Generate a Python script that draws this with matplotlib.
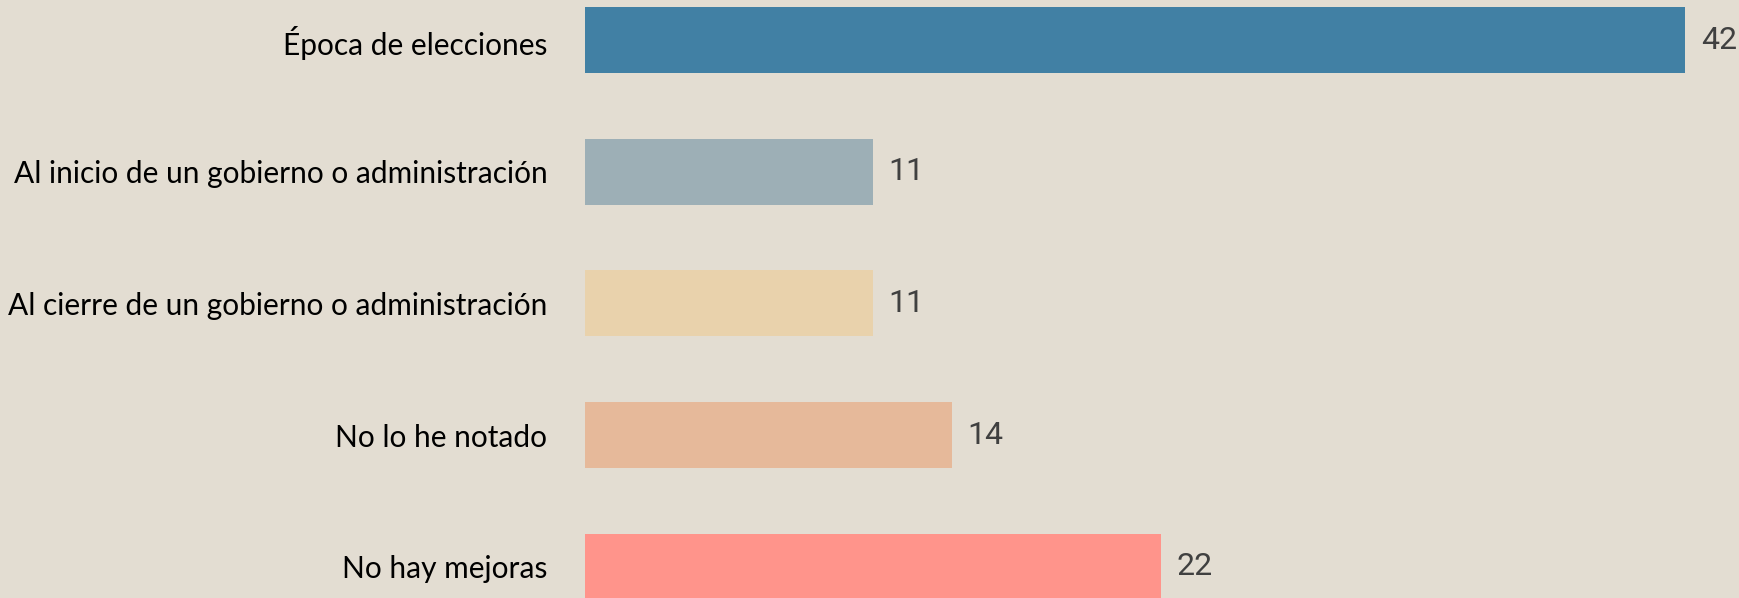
import matplotlib
matplotlib.use("Agg")
import matplotlib.pyplot as plt

categories = [
    "Época de elecciones",
    "Al inicio de un gobierno o administración",
    "Al cierre de un gobierno o administración",
    "No lo he notado",
    "No hay mejoras",
]
values = [42, 11, 11, 14, 22]
colors = ["#4180a4", "#9dafb6", "#e9d2ac", "#e6b99a", "#ff948b"]

BG = "#e3ddd2"

fig = plt.figure(figsize=(17.4, 5.98), dpi=100, facecolor=BG)
ax = fig.add_axes([585 / 1740, 0, 1155 / 1740, 1])
ax.set_facecolor(BG)

pos = list(range(len(categories)))
ax.barh(pos, values, height=0.5, color=colors)

for y, v in zip(pos, values):
    ax.text(v + 0.6, y, str(v), va="center", ha="left",
            fontsize=23, color="#404040", family="Roboto")

ax.set_xlim(0, 1155 / (1100 / 42))
ax.set_ylim(4.237, -0.304)
ax.set_yticks(pos)
ax.set_yticklabels(categories, fontsize=21.5, family="Lato", color="black")
ax.tick_params(axis="y", length=0, pad=27)
ax.set_xticks([])
for s in ax.spines.values():
    s.set_visible(False)

fig.savefig("out.png", dpi=100, facecolor=BG)
